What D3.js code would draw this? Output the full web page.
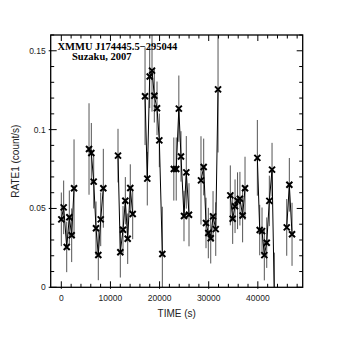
<!DOCTYPE html>
<html>
<head>
<meta charset="utf-8">
<script src="https://cdn.jsdelivr.net/npm/d3@7"></script>
<style>
  body { margin: 0; background: #fff; }
  svg { display: block; }
</style>
</head>
<body>
<div id="chart"></div>
<script>
// light curve, XMMU J174445.5-295044 (Suzaku 2007)
var time = [0, 480, 1100, 1630, 2110, 2590,
            5640, 6110, 6590, 7060, 7530, 8020, 8550,
            11540, 12010, 12560, 13030, 13510, 14040, 14530,
            17040, 17500, 17990, 18460, 18930, 19480, 19950, 20560,
            22900, 23390, 23920, 24360, 24970, 25440, 25990,
            28430, 28980, 29450, 29920, 30410, 30880, 31430, 31900,
            34400, 34880, 35360, 35870, 36350, 36900, 37390,
            39900, 40380, 40850, 41320, 41810, 42340, 42890, 43360,
            45880, 46410, 46960];

var rate = [0.0431, 0.0507, 0.0256, 0.0444, 0.0330, 0.0628,
            0.0877, 0.0852, 0.0670, 0.0374, 0.0205, 0.0431, 0.0628,
            0.0835, 0.0222, 0.0365, 0.0549, 0.0308, 0.0630, 0.0465,
            0.1212, 0.0689, 0.1337, 0.1374, 0.1215, 0.1135, 0.0932, 0.0211,
            0.0750, 0.0750, 0.1133, 0.0830, 0.0452, 0.0729, 0.0460,
            0.0678, 0.0763, 0.0408, 0.0344, 0.0311, 0.0450, 0.0369, 0.1255,
            0.0583, 0.0435, 0.0514, 0.0549, 0.0562, 0.0455, 0.0628,
            0.0821, 0.0363, 0.0356, 0.0204, 0.0283, 0.0548, 0.0746, -0.0080,
            0.0380, 0.0650, 0.0336];

var err = [0.017, 0.017, 0.016, 0.017, 0.017, 0.031,
           0.029, 0.019, 0.017, 0.017, 0.016, 0.017, 0.025,
           0.017, 0.016, 0.015, 0.015, 0.016, 0.015, 0.016,
           0.031, 0.017, 0.020, 0.026, 0.017, 0.017, 0.017, 0.030,
           0.020, 0.020, 0.021, 0.016, 0.016, 0.023, 0.020,
           0.028, 0.018, 0.016, 0.016, 0.016, 0.016, 0.017, 0.040,
           0.019, 0.016, 0.017, 0.018, 0.017, 0.017, 0.020,
           0.024, 0.016, 0.015, 0.016, 0.016, 0.016, 0.017, 0.030,
           0.018, 0.017, 0.020];

var xTickLabels = [0, 10000, 20000, 30000, 40000];
var yTickLabels = [0, 0.05, 0.1, 0.15];
var titleLines = ["XMMU J174445.5\u2212295044", "Suzaku, 2007"];

var W = 338, H = 338;
// plot box (note: "top" is taken by window.top, so use other names)
var mL = 50.7, mR = 302.7, mT = 35, mB = 287.3;

var svg = d3.select("#chart").append("svg")
    .attr("width", W).attr("height", H);

var x = d3.scaleLinear().domain([-2160, 49130]).range([mL, mR]);
var y = d3.scaleLinear().domain([0, 0.16]).range([mB, mT]);

// data points, split wherever there is a gap in time
var pts = time.map((t, i) => ({t: t, r: rate[i], e: err[i]}));
var segs = [];
pts.forEach((p, i) => {
    if (i == 0 || p.t - pts[i - 1].t > 1500) segs.push([]);
    segs[segs.length - 1].push(p);
});

svg.append("clipPath").attr("id", "clip")
  .append("rect")
    .attr("x", mL).attr("y", mT)
    .attr("width", mR - mL).attr("height", mB - mT);

var plot = svg.append("g").attr("clip-path", "url(#clip)");

// error bars
plot.selectAll("line.err")
    .data(pts)
    .enter().append("line")
    .attr("class", "err")
    .attr("x1", d => x(d.t)).attr("x2", d => x(d.t))
    .attr("y1", d => y(d.r - d.e)).attr("y2", d => y(d.r + d.e))
    .attr("stroke", "#555")
    .attr("stroke-width", 1);

// connecting line
var line = d3.line().x(d => x(d.t)).y(d => y(d.r));
plot.selectAll("path.seg")
    .data(segs)
    .enter().append("path")
    .attr("class", "seg")
    .attr("d", line)
    .attr("fill", "none")
    .attr("stroke", "#000")
    .attr("stroke-width", 1);

// x markers
var s = 3;
plot.selectAll("path.mark")
    .data(pts)
    .enter().append("path")
    .attr("class", "mark")
    .attr("d", d => {
        var cx = x(d.t), cy = y(d.r);
        return "M" + (cx - s) + "," + (cy - s) + "L" + (cx + s) + "," + (cy + s) +
               "M" + (cx - s) + "," + (cy + s) + "L" + (cx + s) + "," + (cy - s);
    })
    .attr("stroke", "#000")
    .attr("stroke-width", 2);

// frame
svg.append("rect")
    .attr("x", mL).attr("y", mT)
    .attr("width", mR - mL).attr("height", mB - mT)
    .attr("fill", "none").attr("stroke", "#000").attr("stroke-width", 1.3);

// ticks on all four sides, pointing inward
var xMinor = d3.range(0, 49000, 2000);
var yMinor = d3.range(0, 0.1601, 0.01).map(v => +v.toFixed(2));
var isMajX = v => v % 10000 == 0;
var isMajY = v => Math.abs(v / 0.05 - Math.round(v / 0.05)) < 1e-6;

var ticks = svg.append("g").attr("stroke", "#000").attr("stroke-width", 1);
xMinor.forEach(v => {
    var len = isMajX(v) ? 6 : 3.5;
    ticks.append("line").attr("x1", x(v)).attr("x2", x(v))
        .attr("y1", mB + (isMajX(v) ? 1.5 : 0)).attr("y2", mB - len);
    ticks.append("line").attr("x1", x(v)).attr("x2", x(v))
        .attr("y1", mT).attr("y2", mT + len);
});
yMinor.forEach(v => {
    var len = isMajY(v) ? 6 : 3.5;
    ticks.append("line").attr("y1", y(v)).attr("y2", y(v))
        .attr("x1", mL - (isMajY(v) ? 2 : 0)).attr("x2", mL + len);
    ticks.append("line").attr("y1", y(v)).attr("y2", y(v))
        .attr("x1", mR).attr("x2", mR - len);
});

// tick labels
var lab = svg.append("g")
    .attr("font-family", "'Liberation Sans', Arial, sans-serif")
    .attr("font-size", 8.5)
    .attr("fill", "#222");
lab.selectAll("text.xl")
    .data(xTickLabels)
    .enter().append("text")
    .attr("x", d => x(d)).attr("y", 301)
    .attr("text-anchor", "middle")
    .text(d => d);
lab.selectAll("text.yl")
    .data(yTickLabels)
    .enter().append("text")
    .attr("x", mL - 5).attr("y", d => y(d) + 3)
    .attr("text-anchor", "end")
    .text(d => d);

// axis titles
svg.append("text")
    .attr("x", (mL + mR) / 2).attr("y", 317)
    .attr("text-anchor", "middle")
    .attr("font-family", "'Liberation Sans', Arial, sans-serif")
    .attr("font-size", 10).attr("fill", "#222")
    .text("TIME (s)");
svg.append("text")
    .attr("transform", "translate(19," + ((mT + mB) / 2) + ") rotate(-90)")
    .attr("text-anchor", "middle")
    .attr("font-family", "'Liberation Sans', Arial, sans-serif")
    .attr("font-size", 10).attr("fill", "#222")
    .text("RATE1 (count/s)");

// source name
svg.append("text")
    .attr("x", 57.5).attr("y", 49.5)
    .attr("font-family", "'Liberation Serif', 'Times New Roman', serif")
    .attr("font-weight", "bold").attr("font-size", 10.5)
    .text(titleLines[0]);
svg.append("text")
    .attr("x", 72).attr("y", 59.5)
    .attr("font-family", "'Liberation Serif', 'Times New Roman', serif")
    .attr("font-weight", "bold").attr("font-size", 10.5)
    .text(titleLines[1]);
</script>
</body>
</html>
